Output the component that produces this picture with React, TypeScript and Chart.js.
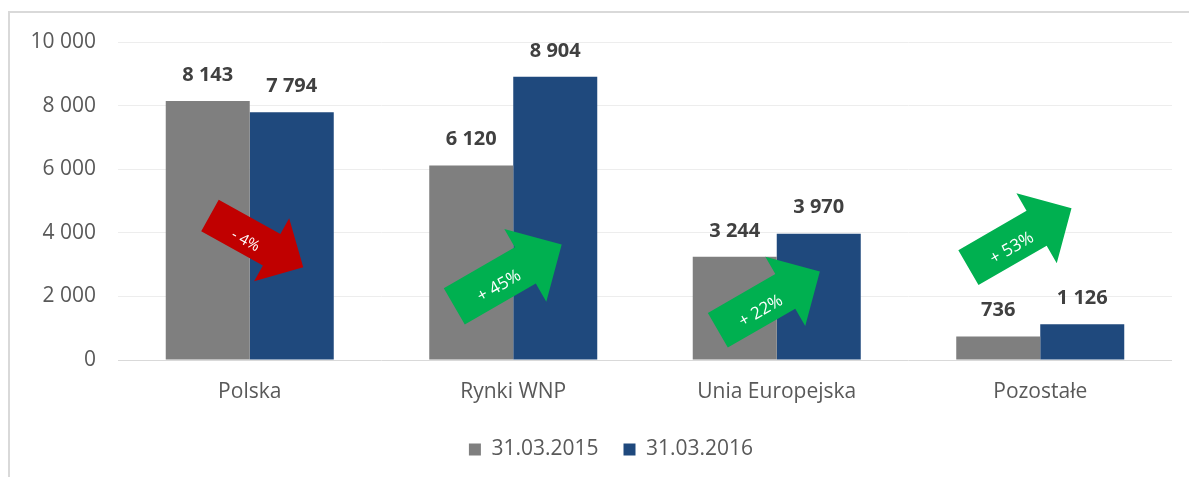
import React, { useEffect, useRef } from "react";
import { Chart, registerables } from "chart.js";

Chart.register(...registerables);

// ---- data ----
const categories = ["Polska", "Rynki WNP", "Unia Europejska", "Pozostałe"];
const seriesLabels = ["31.03.2015", "31.03.2016"];
const values2015 = [8143, 6120, 3244, 736];
const values2016 = [7794, 8904, 3970, 1126];
const yTickValues = [0, 2000, 4000, 6000, 8000, 10000];
const changeLabels = ["- 4%", "+ 45%", "+ 22%", "+ 53%"];
// arrow anchors (data space): y-value of the arrow centre, shift in category units
const arrowAnchorValues = [3730, 2660, 1860, 3840];
const arrowAnchorShift = [0.026, -0.02, -0.03, -0.077];
const arrowAngles = [29, -30, -30, -30];

// ---- styles ----
const FONT = "'Open Sans', 'DejaVu Sans', sans-serif";
const GRAY = "#7F7F7F";
const BLUE = "#1F497D";
const RED = "#C00000";
const GREEN = "#00B050";
const arrowStyle = { length: 124, body: 42, head: 84, headLen: 42 };
const arrowScale = [0.86, 1, 0.95, 0.96];

const fmt = (v: number) => String(v).replace(/\B(?=(\d{3})+(?!\d))/g, " ");

const legendShiftPlugin = {
  id: "legendShift",
  afterLayout(chart: any) {
    if (chart.legend) {
      chart.legend.left += 40;
    }
  },
};

const arrowsPlugin = {
  id: "changeArrows",
  afterDatasetsDraw(chart: any) {
    const { ctx, scales } = chart;
    const x = scales.x;
    const y = scales.y;
    const catW = x.getPixelForValue(1) - x.getPixelForValue(0);
    changeLabels.forEach((label, i) => {
      const cx = x.getPixelForValue(i) + arrowAnchorShift[i] * catW;
      const cy = y.getPixelForValue(arrowAnchorValues[i]);
      const s = arrowScale[i];
      const L = arrowStyle.length * s;
      const bw = (arrowStyle.body * s) / 2;
      const hw = (arrowStyle.head * s) / 2;
      const hl = arrowStyle.headLen * s;
      ctx.save();
      ctx.translate(cx, cy);
      ctx.rotate((arrowAngles[i] * Math.PI) / 180);
      ctx.beginPath();
      ctx.moveTo(-L / 2, -bw);
      ctx.lineTo(L / 2 - hl, -bw);
      ctx.lineTo(L / 2 - hl, -hw);
      ctx.lineTo(L / 2, 0);
      ctx.lineTo(L / 2 - hl, hw);
      ctx.lineTo(L / 2 - hl, bw);
      ctx.lineTo(-L / 2, bw);
      ctx.closePath();
      ctx.fillStyle = changeLabels[i].startsWith("-") ? RED : GREEN;
      ctx.fill();
      ctx.fillStyle = "#FFFFFF";
      ctx.font = `${i === 0 ? 15 : 17}px ${FONT}`;
      ctx.textAlign = "center";
      ctx.textBaseline = "middle";
      ctx.fillText(label, (-L / 2 + (L / 2 - hl)) / 2 + 8, 5);
      ctx.restore();
    });

    // value labels above bars
    ctx.save();
    ctx.font = `bold 20px ${FONT}`;
    ctx.fillStyle = "#404040";
    ctx.textAlign = "center";
    ctx.textBaseline = "middle";
    chart.data.datasets.forEach((ds: any, di: number) => {
      const meta = chart.getDatasetMeta(di);
      meta.data.forEach((bar: any, j: number) => {
        ctx.fillText(fmt(ds.data[j]), bar.x, bar.y - 26);
      });
    });
    ctx.restore();
  },
};

export default function App() {
  const ref = useRef<HTMLCanvasElement>(null);
  useEffect(() => {
    const chart = new Chart(ref.current!, {
      type: "bar",
      data: {
        labels: categories,
        datasets: [
          { label: seriesLabels[0], data: values2015, backgroundColor: GRAY },
          { label: seriesLabels[1], data: values2016, backgroundColor: BLUE },
        ],
      },
      options: {
        animation: false,
        responsive: true,
        maintainAspectRatio: false,
        layout: { padding: { left: 0, right: 17, top: 29, bottom: 7 } },
        datasets: { bar: { barPercentage: 1, categoryPercentage: 0.6376 } },
        plugins: {
          tooltip: { enabled: false },
          legend: {
            position: "bottom",
            labels: {
              boxWidth: 12,
              boxHeight: 12,
              padding: 25,
              color: "#595959",
              font: { family: FONT, size: 21 },
            },
          },
        },
        scales: {
          x: {
            grid: { display: false, drawTicks: false },
            border: { display: false },
            ticks: { color: "#595959", font: { family: FONT, size: 21 }, padding: 19 },
            afterFit: (s: any) => {
              s.height = 54;
            },
          },
          y: {
            min: 0,
            max: 10000,
            afterBuildTicks: (s: any) => {
              s.ticks = yTickValues.map((v) => ({ value: v }));
            },
            grid: {
              drawTicks: false,
              color: (c: any) => (c.tick && c.tick.value === 0 ? "#D9D9D9" : "#EDEDED"),
              lineWidth: 1,
            },
            border: { display: false },
            ticks: {
              color: "#595959",
              font: { family: FONT, size: 21 },
              padding: 22,
              callback: (v: any) => fmt(Number(v)),
            },
            afterFit: (s: any) => {
              s.width = 108;
              s.paddingTop = 0;
              s.paddingBottom = 0;
            },
          },
        },
      },
      plugins: [arrowsPlugin, legendShiftPlugin],
    });
    return () => chart.destroy();
  }, []);

  return (
    <div
      style={{
        position: "fixed",
        left: 8,
        top: 11,
        width: 1181,
        height: 466,
        boxSizing: "border-box",
        borderTop: "2px solid #D9D9D9",
        borderLeft: "2px solid #D9D9D9",
        background: "#FFFFFF",
      }}
    >
      <div style={{ position: "relative", width: "100%", height: "100%" }}>
        <canvas ref={ref} />
      </div>
    </div>
  );
}
